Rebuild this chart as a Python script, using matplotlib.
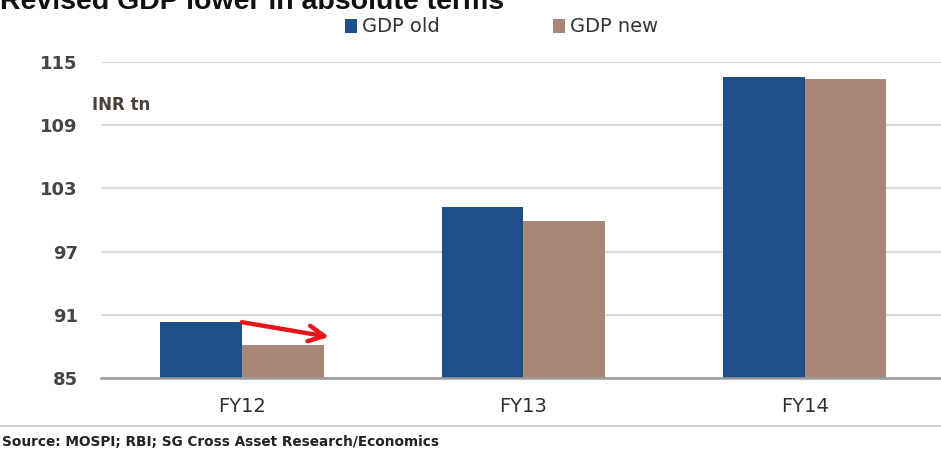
import numpy as np
import matplotlib.pyplot as plt

# GDP levels, INR trillion
years = ['FY12', 'FY13', 'FY14']
gdp_old = [90.3, 101.2, 113.6]
gdp_new = [88.1, 99.9, 113.4]
yticks = [85, 91, 97, 103, 109, 115]

blue = '#1f4f8a'
brown = '#a98676'

fig = plt.figure(figsize=(9.41, 4.5), dpi=100)
ax = fig.add_axes([0.1076, 0.16, 0.897, 0.7022])

x = np.arange(len(years))
w = 0.29
ax.bar(x - w / 2, gdp_old, w, color=blue, label='GDP old', zorder=3)
ax.bar(x + w / 2, gdp_new, w, color=brown, label='GDP new', zorder=3)

ax.set_xlim(-0.5, 2.5)
ax.set_ylim(85, 115)
ax.set_yticks(yticks)
ax.set_yticklabels([str(t) for t in yticks], fontsize=13, fontweight='bold',
                   color='#454545')
ax.set_xticks(x)
ax.set_xticklabels(years, fontsize=14, color='#303030')
ax.tick_params(axis='y', length=0, pad=17)
ax.tick_params(axis='x', length=0, pad=14)

ax.grid(axis='y', color='#dadada', linewidth=1.6, zorder=0)
for side in ['top', 'right', 'left']:
    ax.spines[side].set_visible(False)
ax.spines['bottom'].set_color('#9a9a9a')
ax.spines['bottom'].set_linewidth(1.8)
ax.spines['bottom'].set_zorder(4)

ax.text(92 / 941, 1 - 105 / 450, 'INR tn', transform=fig.transFigure,
        fontsize=12, fontweight='bold', color='#4a4035', va='center')

# red arrow pointing from the old FY12 level
ax.annotate('', xy=(0.31, 88.9), xytext=(0, gdp_old[0]),
            arrowprops=dict(arrowstyle='->', color='#e8141b', lw=3.2,
                            mutation_scale=28, shrinkA=0, shrinkB=0),
            zorder=5)

fig.legend(loc='upper left', bbox_to_anchor=(0.348, 1.0), ncol=2,
           frameon=False, fontsize=14, handlelength=0.6, handleheight=0.7,
           handletextpad=0.3, columnspacing=5.8, labelcolor='#333333')

fig.text(0.0, 1 - 9 / 450, 'Revised GDP lower in absolute terms',
         fontsize=20.5, fontweight='bold', color='#111111', va='baseline',
         family='Liberation Sans')

fig.add_artist(plt.Line2D([0, 1], [1 - 426 / 450] * 2, color='#c8c8c8',
                          linewidth=1.2, transform=fig.transFigure))
fig.text(0.002, 1 - 446 / 450,
         'Source: MOSPI; RBI; SG Cross Asset Research/Economics',
         fontsize=9.8, fontweight='bold', color='#222222', va='baseline')

fig.savefig('out.png', dpi=100)
